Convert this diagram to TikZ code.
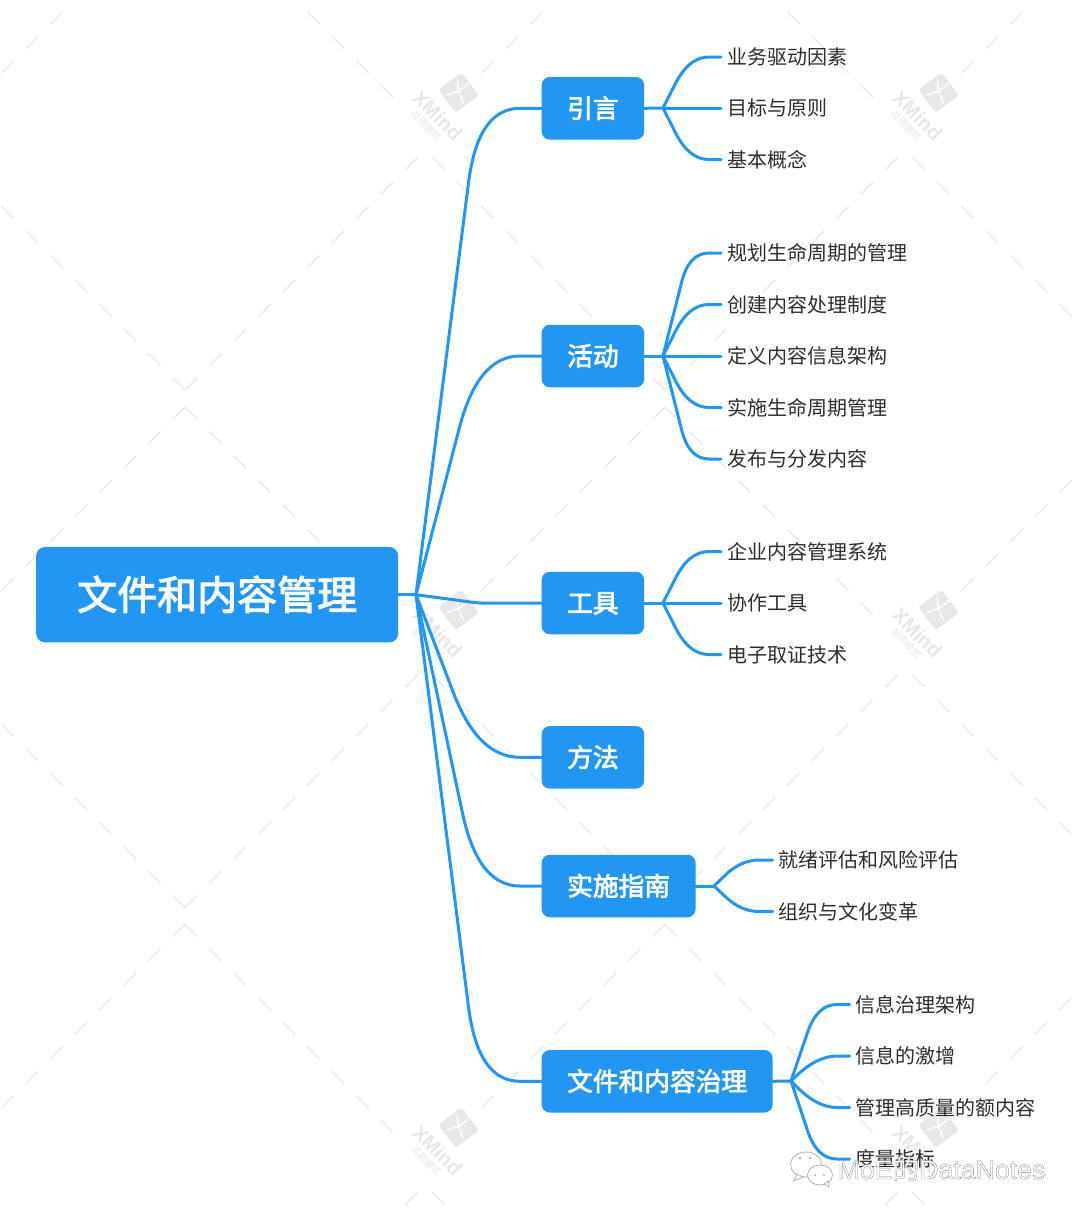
\documentclass[tikz,border=0pt]{standalone}
\usepackage{fontspec}
\usetikzlibrary{calc}
\setmainfont{Noto Sans CJK SC}
\newfontfamily\wmfont{Liberation Sans}
\newcommand{\thick}[2]{\special{pdf: code q 2 Tr #1 w 1 G 1 g}#2\special{pdf: code Q}}
\definecolor{mapblue}{RGB}{33,150,243}
\definecolor{leafink}{RGB}{45,45,45}
\definecolor{markgrey}{RGB}{232,232,232}
\tikzset{
  rootbox/.style={fill=mapblue,rounded corners=9pt,text=white,minimum width=362pt,minimum height=95.5pt,anchor=west,inner sep=0pt,text height=30pt,text depth=0pt,font=\fontsize{40}{48}\selectfont},
  topicbox/.style={fill=mapblue,rounded corners=8pt,text=white,minimum height=62.5pt,anchor=west,inner xsep=25.5pt,inner ysep=0pt,text height=19.2pt,text depth=0pt,font=\fontsize{25.7}{30}\selectfont},
  leafbox/.style={anchor=west,inner xsep=6pt,inner ysep=0pt,text height=15.8pt,text depth=0pt,text=leafink,font=\fontsize{20}{24}\selectfont},
  conn/.style={draw=mapblue,line width=3pt,line cap=round,line join=round},
  markline/.style={draw=markgrey,line width=1.3pt,dash pattern=on 17.3pt off 17.3pt},
}
\newcommand{\swoop}[5]{%
  \coordinate (K) at (#2.west -| #3);
  \coordinate (P) at ($(K)!#4pt!(#1)$);
  \coordinate (Q) at ($(K)+(#5,0)$);
  \draw[conn] (#1) -- (P) .. controls ($(P)!.67!(K)$) and ($(Q)!.67!(K)$) .. (Q) -- (#2.west);
}
\begin{document}
\begin{tikzpicture}[x=1pt,y=-1pt]
\useasboundingbox (0,0) rectangle (1080,1216);
\fill[white] (0,0) rectangle (1080,1216);
\begin{scope}
\clip (0,0) rectangle (1080,1216);
\foreach \tx in {0,480,960}{
 \foreach \ty in {-517.5,0,517.5,1035}{
  \begin{scope}[shift={(\tx,\ty)}]
   \draw[markline] (185,390) -- (-48,157);
   \draw[markline] (185,390) -- (418,157);
   \draw[markline] (185,407) -- (-23,615);
   \draw[markline] (185,407) -- (393,615);
   \fill[markgrey,rounded corners=3pt,rotate around={37:(458.5,92.5)}] (444,78) rectangle (473,107);
   \draw[white,line width=1.4pt,line cap=round] (457.5,80) .. controls (457,90) and (461,96) .. (463,103);
   \draw[white,line width=1.4pt,line cap=round] (447,95) .. controls (455,93) and (462,90) .. (469,83);
   \node[rotate=-45,text=markgrey,inner sep=0pt,font=\wmfont\bfseries\fontsize{20}{22}\selectfont] at (437.5,115.5) {XMind};
   \node[rotate=-45,text=markgrey,inner sep=0pt,font=\fontsize{9.5}{12}\selectfont] at (426,125.5) {试用模式};
  \end{scope}
 }
}
\end{scope}

\coordinate (kmain) at (478,0);
\coordinate (kA) at (689,0);
\coordinate (kB) at (741,0);
\coordinate (kC) at (817,0);

\node[rootbox] (root) at (36,594.7) {\thick{1.1}{文件和内容管理}};
\node[topicbox] (intro) at (541.5,108.3) {\thick{.75}{引言}};
\node[topicbox] (act) at (541.5,356) {\thick{.75}{活动}};
\node[topicbox] (tool) at (541.5,603) {\thick{.75}{工具}};
\node[topicbox] (meth) at (541.5,757.3) {\thick{.75}{方法}};
\node[topicbox] (guide) at (541.5,886) {\thick{.75}{实施指南}};
\node[topicbox] (gov) at (541.5,1081.3) {\thick{.75}{文件和内容治理}};

\node[leafbox] (a1) at (721,57) {业务驱动因素};
\node[leafbox] (a2) at (721,108) {目标与原则};
\node[leafbox] (a3) at (721,159.5) {基本概念};
\node[leafbox] (b1) at (721,253) {规划生命周期的管理};
\node[leafbox] (b2) at (721,304.5) {创建内容处理制度};
\node[leafbox] (b3) at (721,356) {定义内容信息架构};
\node[leafbox] (b4) at (721,407.5) {实施生命周期管理};
\node[leafbox] (b5) at (721,459) {发布与分发内容};
\node[leafbox] (c1) at (721,551.5) {企业内容管理系统};
\node[leafbox] (c2) at (721,603) {协作工具};
\node[leafbox] (c3) at (721,654.5) {电子取证技术};
\node[leafbox] (d1) at (772.6,860) {就绪评估和风险评估};
\node[leafbox] (d2) at (772.6,911.5) {组织与文化变革};
\node[leafbox] (e1) at (849.6,1004.5) {信息治理架构};
\node[leafbox] (e2) at (849.6,1056) {信息的激增};
\node[leafbox] (e3) at (849.6,1107.5) {管理高质量的额内容};
\node[leafbox] (e4) at (849.6,1159) {度量指标};

\coordinate (jroot) at (416,594.7);
\coordinate (jintro) at (663,108);
\coordinate (jact) at (663,356);
\coordinate (jtool) at (663,603);
\coordinate (jguide) at (714,886);
\coordinate (jgov) at (791,1081);

\draw[conn] (root.east) -- (jroot);
\swoop{jroot}{intro}{kmain}{75}{42}
\swoop{jroot}{act}{kmain}{75}{42}
\swoop{jroot}{tool}{kmain}{3}{3}
\swoop{jroot}{meth}{kmain}{70}{42}
\swoop{jroot}{guide}{kmain}{75}{42}
\swoop{jroot}{gov}{kmain}{75}{42}

\draw[conn] (intro.east) -- (jintro);
\draw[conn] (act.east) -- (jact);
\draw[conn] (tool.east) -- (jtool);
\draw[conn] (guide.east) -- (jguide);
\draw[conn] (gov.east) -- (jgov);

\swoop{jintro}{a1}{kA}{30}{20}
\draw[conn] (jintro) -- (a2.west);
\swoop{jintro}{a3}{kA}{30}{20}
\swoop{jact}{b1}{kA}{30}{20}
\swoop{jact}{b2}{kA}{30}{20}
\draw[conn] (jact) -- (b3.west);
\swoop{jact}{b4}{kA}{30}{20}
\swoop{jact}{b5}{kA}{30}{20}
\swoop{jtool}{c1}{kA}{30}{20}
\draw[conn] (jtool) -- (c2.west);
\swoop{jtool}{c3}{kA}{30}{20}
\swoop{jguide}{d1}{kB}{22}{18}
\swoop{jguide}{d2}{kB}{22}{18}
\swoop{jgov}{e1}{kC}{30}{20}
\swoop{jgov}{e2}{kC}{30}{20}
\swoop{jgov}{e3}{kC}{30}{20}
\swoop{jgov}{e4}{kC}{30}{20}

% WeChat signature
\begin{scope}[draw=black!30,fill=white,line width=.8pt]
 \filldraw (806,1164.5) ellipse (15.5 and 12.5);
 \filldraw (797,1174) -- (794,1181) -- (803,1177) -- cycle;
 \fill[black!30] (800,1158) circle (1.3);
 \fill[black!30] (810,1158) circle (1.3);
 \filldraw (820,1175) ellipse (12.5 and 10);
 \filldraw (824,1184) -- (829,1187) -- (828,1181) -- cycle;
 \fill[black!30] (815,1175) circle (1.1);
 \fill[black!30] (824,1175) circle (1.1);
\end{scope}
\node[anchor=west,inner sep=0pt,font=\wmfont\fontsize{26.7}{30}\selectfont] (sig) at (837.5,1168.5)
 {\special{pdf: code q 2 Tr 0.3 w 0.5 G 1 g}MoE{\fontspec{Noto Sans CJK SC}的}DataNotes\special{pdf: code Q}};
\end{tikzpicture}
\end{document}
